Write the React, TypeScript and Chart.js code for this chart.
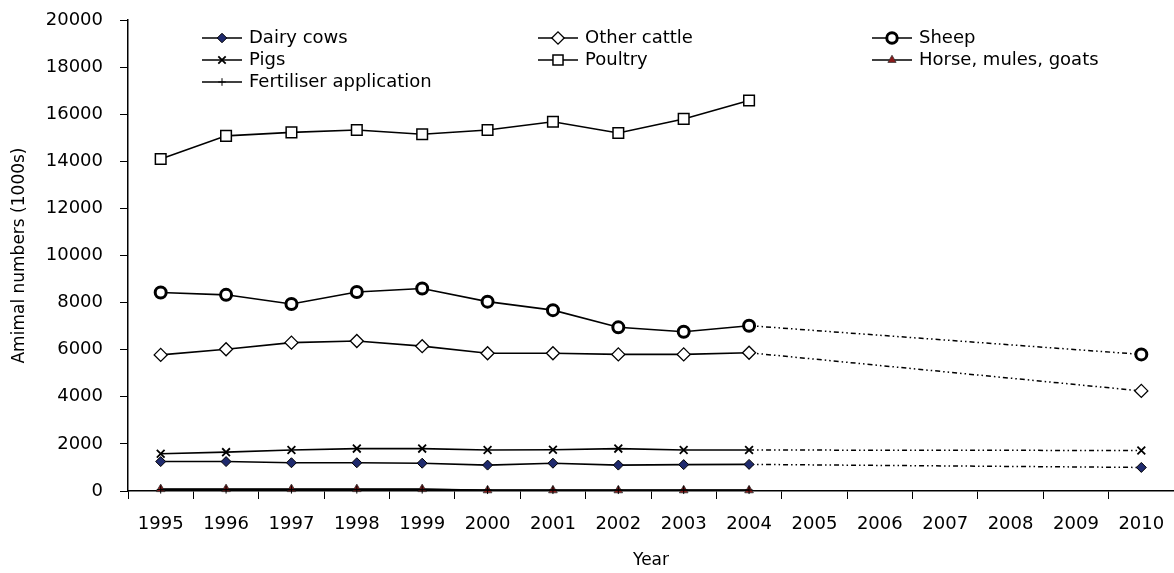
import React, { useEffect, useRef } from "react";
import { Chart, registerables } from "chart.js";
import { drawPoint } from "chart.js/helpers";

Chart.register(...registerables);

const years = ["1995", "1996", "1997", "1998", "1999", "2000", "2001", "2002", "2003", "2004", "2005", "2006", "2007", "2008", "2009", "2010"];

const dairyCows = [1250, 1250, 1200, 1200, 1180, 1100, 1180, 1100, 1120, 1130, null, null, null, null, null, 1000];
const otherCattle = [5780, 6020, 6300, 6370, 6150, 5850, 5850, 5800, 5800, 5870, null, null, null, null, null, 4250];
const sheep = [8430, 8330, 7940, 8450, 8600, 8040, 7680, 6950, 6760, 7020, null, null, null, null, null, 5800];
const pigs = [1580, 1650, 1740, 1800, 1800, 1740, 1750, 1800, 1740, 1740, null, null, null, null, null, 1720];
const poultry = [14100, 15080, 15230, 15330, 15150, 15330, 15680, 15200, 15800, 16580, null, null, null, null, null, null];
const horses = [80, 80, 80, 80, 80, 30, 30, 30, 30, 30, null, null, null, null, null, null];
const fertiliser = [60, 60, 60, 60, 60, 40, 40, 40, 40, 40, null, null, null, null, null, null];

const seriesNames = ["Dairy cows", "Other cattle", "Sheep", "Pigs", "Poultry", "Horse, mules, goats", "Fertiliser application"];

const FONT = "'DejaVu Sans', sans-serif";

type Style = { pointStyle: string; radius: number; fill: string; border: string; bw: number };

const styles: Style[] = [
  { pointStyle: "rectRot", radius: 5, fill: "#1f2a6e", border: "#000", bw: 1 },
  { pointStyle: "rectRot", radius: 6.5, fill: "#fff", border: "#000", bw: 1.3 },
  { pointStyle: "circle", radius: 5.5, fill: "#fff", border: "#000", bw: 3 },
  { pointStyle: "crossRot", radius: 5.5, fill: "#000", border: "#000", bw: 1.8 },
  { pointStyle: "rect", radius: 7.5, fill: "#fff", border: "#000", bw: 1.5 },
  { pointStyle: "triangle", radius: 5, fill: "#8b1a1a", border: "#333", bw: 0.8 },
  { pointStyle: "cross", radius: 4, fill: "#000", border: "#000", bw: 1 },
];

const legendPos = [
  [202, 38], [538, 38], [872, 38],
  [202, 60], [538, 60], [872, 60],
  [202, 82],
];

const legendPlugin = {
  id: "customLegend",
  afterDatasetsDraw(chart: any) {
    const ctx = chart.ctx as CanvasRenderingContext2D;
    ctx.save();
    seriesNames.forEach((name, i) => {
      const [x, y] = legendPos[i];
      const st = styles[i];
      ctx.strokeStyle = "#000";
      ctx.lineWidth = 1.6;
      ctx.setLineDash([]);
      ctx.beginPath();
      ctx.moveTo(x, y);
      ctx.lineTo(x + 40, y);
      ctx.stroke();
      ctx.fillStyle = st.fill;
      ctx.strokeStyle = st.border;
      ctx.lineWidth = st.bw;
      drawPoint(ctx, { pointStyle: st.pointStyle as any, rotation: 0, radius: st.radius * 0.95, borderWidth: st.bw }, x + 20, y);
      ctx.fillStyle = "#000";
      ctx.font = `18px ${FONT}`;
      ctx.textBaseline = "middle";
      ctx.textAlign = "left";
      ctx.fillText(name, x + 47, y);
    });
    ctx.restore();
  },
};

export default function App() {
  const ref = useRef<HTMLCanvasElement>(null);
  useEffect(() => {
    const allData = [dairyCows, otherCattle, sheep, pigs, poultry, horses, fertiliser];
    const order = [6, 5, 0, 3, 1, 2, 4];
    const skipped = (c: any, v: any) => (c.p0.skip || c.p1.skip ? v : undefined);
    const datasets = order.map((i) => {
      const st = styles[i];
      return {
        label: seriesNames[i],
        data: allData[i],
        borderColor: "#000",
        borderWidth: 1.6,
        backgroundColor: st.fill,
        pointStyle: st.pointStyle,
        pointRadius: st.radius,
        pointBackgroundColor: st.fill,
        pointBorderColor: st.border,
        pointBorderWidth: st.bw,
        spanGaps: true,
        tension: 0,
        clip: false,
        segment: {
          borderDash: (c: any) => skipped(c, [5, 3, 1.5, 3, 1.5, 3]),
          borderWidth: (c: any) => skipped(c, 1.5),
        },
      };
    });
    const chart = new Chart(ref.current!, {
      type: "line",
      data: { labels: years, datasets: datasets as any },
      options: {
        animation: false,
        responsive: false,
        layout: { autoPadding: false, padding: { top: 20, left: 0, right: 0, bottom: 0 } },
        plugins: { legend: { display: false }, tooltip: { enabled: false } },
        scales: {
          x: {
            offset: true,
            grid: { drawOnChartArea: false, drawTicks: true, tickLength: 8, color: "#000", offset: true },
            border: { color: "#000", width: 1.5 },
            ticks: { color: "#000", font: { family: FONT, size: 18 }, padding: 15, maxRotation: 0, autoSkip: false },
            title: { display: true, text: "Year", color: "#000", font: { family: FONT, size: 17 }, padding: { top: 4, bottom: 2 } },
            afterFit: (s: any) => { s.height = 82; s.paddingLeft = 0; s.paddingRight = 0; },
          },
          y: {
            min: 0,
            max: 20000,
            grid: { drawOnChartArea: false, drawTicks: true, tickLength: 8, color: "#000" },
            border: { color: "#000", width: 1.5 },
            ticks: { stepSize: 2000, color: "#000", font: { family: FONT, size: 18 }, padding: 17, callback: (v: any) => String(v) },
            title: { display: true, text: "Amimal numbers (1000s)", color: "#000", font: { family: FONT, size: 17 }, padding: { top: 9, bottom: 4 } },
            afterFit: (s: any) => { s.width = 128; s.paddingTop = 0; s.paddingBottom = 0; },
          },
        },
      },
      plugins: [legendPlugin],
    });
    return () => chart.destroy();
  }, []);
  return (
    <div style={{ position: "fixed", left: 0, top: 0, width: 1174, height: 573, background: "#fff" }}>
      <canvas ref={ref} width={1174} height={573} style={{ width: 1174, height: 573 }} />
    </div>
  );
}
